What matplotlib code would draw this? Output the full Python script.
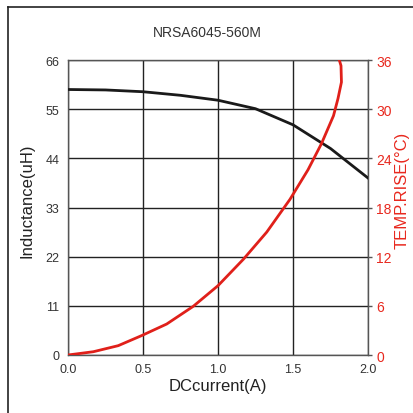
import matplotlib
matplotlib.use("Agg")
import matplotlib.pyplot as plt
from matplotlib.lines import Line2D

plt.rcParams['font.family'] = ['Liberation Sans', 'DejaVu Sans']

title = "NRSA6045-560M"
current_L = [0.0, 0.25, 0.5, 0.75, 1.0, 1.25, 1.5, 1.75, 2.0]
inductance = [59.4, 59.3, 58.9, 58.1, 57.0, 55.1, 51.5, 46.2, 39.6]
current_T = [0.0, 0.169, 0.335, 0.49, 0.658, 0.835, 1.0, 1.17, 1.325, 1.48,
             1.6, 1.69, 1.77, 1.8, 1.823, 1.82, 1.807]
temp_rise = [0.0, 0.4, 1.14, 2.36, 3.78, 5.94, 8.46, 11.7, 15.0, 19.0,
             22.6, 25.8, 29.2, 31.3, 33.3, 35.3, 36.1]
x_ticks = [0.0, 0.5, 1.0, 1.5, 2.0]
yl_ticks = [0, 11, 22, 33, 44, 55, 66]
yr_ticks = [0, 6, 12, 18, 24, 30, 36]

fig = plt.figure(figsize=(4.14, 4.14), dpi=100)
ax = fig.add_axes([68/414, 1-356/414, 300/414, 295/414])
ax2 = ax.twinx()

ax.set_xlim(0, 2.0)
ax.set_ylim(0, 66)
ax.set_xticks(x_ticks)
ax.set_xticklabels([f"{v:.1f}" for v in x_ticks])
ax.set_yticks(yl_ticks)
ax.grid(True, color='#222222', linewidth=1.0)
ax.set_axisbelow(True)
ax.tick_params(length=0, labelsize=9, colors='#333333', pad=6)
for s in ax.spines.values():
    s.set_color('#555555')
    s.set_linewidth(1.0)

ax.plot(current_L, inductance, color='#1a1a1a', linewidth=2.0, zorder=3)

ax2.set_ylim(0, 36)
ax2.set_yticks(yr_ticks)
ax2.tick_params(length=3, width=1, color='#555555', labelcolor='#e8281e',
                labelsize=10, pad=3)
ax2.plot(current_T, temp_rise, color='#e0201a', linewidth=2.0, zorder=4,
         solid_capstyle='round')
for s in ax2.spines.values():
    s.set_visible(False)

ax.set_xlabel("DCcurrent(A)", fontsize=12, color='#222222', labelpad=2)
ax.set_ylabel("Inductance(uH)", fontsize=12, color='#222222', labelpad=8)
ax.yaxis.set_label_coords(-0.113, 0.525)
ax2.set_ylabel("TEMP.RISE(\u00b0C)", fontsize=12, color='#e8281e', labelpad=3)
ax2.yaxis.set_label_coords(1.09, 0.56)

fig.text(0.5, 1-33/414, title, ha='center', va='center', fontsize=10, color='#333333')

fig.add_artist(Line2D([8/414, 8/414], [0, 1-8/414], transform=fig.transFigure, color='#222222', linewidth=1.2))
fig.add_artist(Line2D([8/414, 1], [1-8/414, 1-8/414], transform=fig.transFigure, color='#222222', linewidth=1.2))

fig.savefig("out.png", dpi=100)
